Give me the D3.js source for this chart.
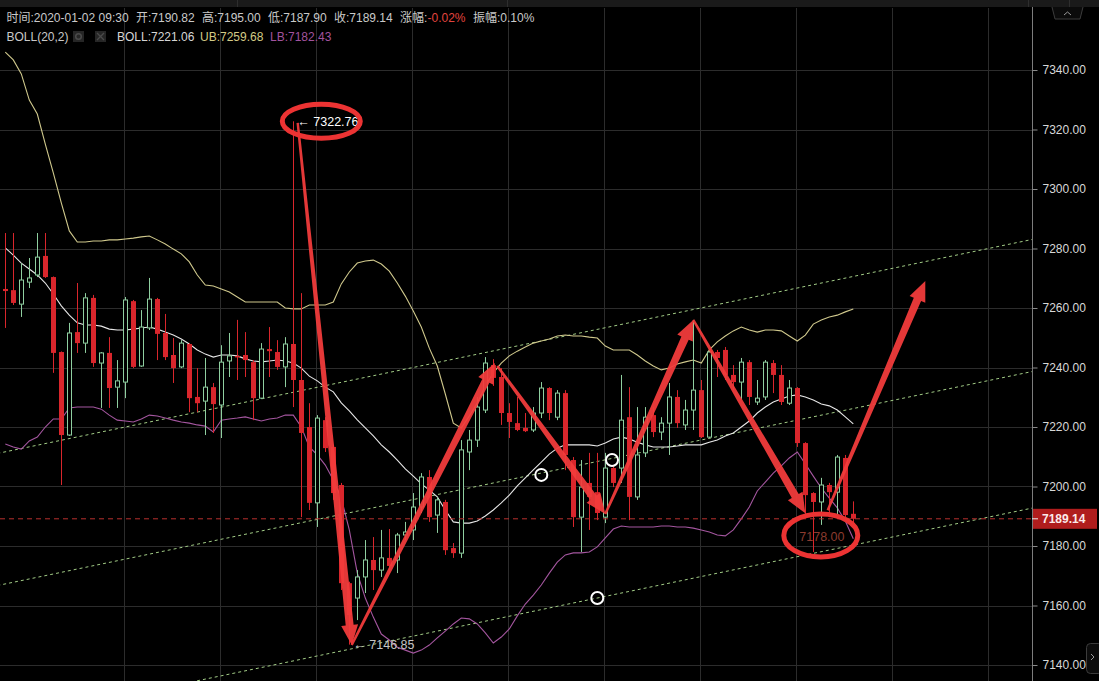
<!DOCTYPE html>
<html><head><meta charset="utf-8">
<script src="https://cdn.jsdelivr.net/npm/d3@7"></script>
<style>html,body{margin:0;padding:0;background:#000;overflow:hidden}</style>
</head><body><svg id="c" width="1099" height="681"></svg>
<script>
// ---------------- data ----------------
const openP = [7266.4,7266.0,7261.3,7268.7,7271.1,7277.5,7270.4,7245.2,7217.3,7251.9,
7248.2,7263.4,7241.5,7244.9,7233.4,7235.1,7262.3,7240.5,7253.3,7263.0,
7251.6,7244.2,7240.2,7247.9,7230.1,7228.7,7233.4,7227.4,7242.2,7243.9,
7244.2,7241.8,7229.7,7246.2,7245.2,7240.2,7247.9,7235.8,7220.0,7194.5,
7222.3,7213.3,7200.5,7167.5,7162.5,7169.6,7175.3,7171.9,7176.0,7175.3,
7183.7,7185.4,7193.1,7203.2,7190.4,7194.8,7179.3,7177.6,7211.6,7215.6,
7225.7,7240.8,7236.8,7224.7,7221.3,7219.7,7219.0,7224.7,7233.1,7223.3,
7231.4,7208.9,7189.7,7201.2,7198.1,7189.7,7206.2,7206.2,7223.3,7196.5,
7211.3,7224.0,7218.3,7221.3,7230.1,7220.7,7225.7,7232.4,7216.6,7245.2,
7245.9,7237.5,7235.1,7241.8,7228.4,7230.1,7241.5,7237.5,7228.0,7233.1,
7214.6,7197.8,7194.8,7200.5,7198.1,7209.6,7190.82];
const highP = [7285.2,7285.2,7275.1,7276.8,7285.2,7285.2,7270.6,7245.4,7255.0,7268.4,
7265.0,7264.4,7245.2,7250.2,7242.5,7263.7,7262.7,7259.3,7270.1,7263.4,
7258.0,7249.9,7249.2,7248.2,7239.8,7243.2,7234.8,7247.5,7251.6,7256.0,
7251.9,7242.5,7248.2,7253.6,7249.2,7250.2,7322.76,7265.0,7228.0,7224.0,
7223.3,7214.0,7201.2,7168.0,7171.9,7182.0,7183.0,7185.4,7185.7,7184.4,
7188.1,7197.8,7204.5,7205.5,7196.5,7195.5,7181.0,7215.6,7219.0,7230.1,
7243.5,7242.8,7239.8,7228.0,7230.1,7224.7,7226.7,7235.1,7233.4,7232.4,
7232.4,7209.9,7208.9,7211.3,7211.3,7211.3,7207.2,7237.5,7233.4,7226.7,
7226.7,7226.7,7223.3,7234.8,7232.4,7229.1,7256.0,7235.8,7245.9,7245.9,
7246.9,7240.8,7243.2,7242.5,7235.8,7242.5,7242.5,7240.8,7235.8,7233.4,
7214.9,7198.1,7202.9,7201.2,7210.6,7210.6,7195.00];
const lowP = [7253.3,7261.0,7257.0,7266.7,7270.4,7270.1,7238.2,7200.5,7217.0,7244.9,
7244.9,7240.2,7226.4,7226.4,7226.4,7229.7,7239.8,7240.2,7252.6,7242.5,
7242.5,7234.8,7239.8,7225.0,7225.0,7217.3,7218.0,7216.3,7236.8,7235.8,
7236.8,7222.3,7229.4,7236.8,7239.2,7233.4,7226.7,7189.7,7192.1,7186.4,
7211.6,7195.5,7165.2,7146.85,7155.1,7164.2,7165.2,7169.6,7170.9,7170.9,
7182.0,7182.0,7191.1,7188.1,7184.4,7177.0,7176.0,7176.0,7205.5,7213.3,
7224.7,7233.8,7220.7,7216.3,7218.6,7218.3,7218.3,7223.0,7222.3,7222.3,
7205.5,7186.4,7178.0,7185.4,7188.7,7187.7,7199.8,7201.2,7188.7,7195.5,
7209.9,7216.6,7215.6,7210.6,7219.7,7219.0,7219.0,7216.3,7216.3,7236.8,
7235.8,7232.4,7229.1,7227.4,7227.4,7229.1,7231.4,7227.4,7227.4,7213.3,
7189.7,7178.0,7187.1,7189.7,7189.7,7189.7,7187.90];
const closeP = [7265.7,7261.7,7269.4,7270.1,7277.1,7270.4,7244.9,7217.3,7251.6,7248.2,
7263.4,7241.5,7244.9,7233.1,7235.5,7262.7,7240.2,7253.6,7263.0,7251.3,
7243.5,7239.8,7248.2,7229.7,7228.0,7233.4,7227.7,7241.8,7243.9,7243.5,
7242.5,7229.7,7246.2,7245.5,7240.2,7247.9,7235.8,7218.0,7194.5,7223.0,
7212.9,7197.8,7167.5,7156.8,7169.6,7175.3,7171.9,7176.0,7173.3,7183.7,
7184.7,7193.1,7203.2,7189.7,7195.5,7178.6,7177.6,7212.3,7215.6,7226.7,
7241.5,7236.5,7224.7,7221.7,7219.0,7218.6,7224.7,7233.1,7224.7,7231.4,
7210.6,7189.7,7199.8,7196.5,7191.1,7206.2,7201.2,7222.3,7196.5,7210.6,
7223.3,7218.3,7221.3,7230.1,7221.3,7225.7,7232.4,7216.6,7245.2,7243.2,
7237.5,7235.1,7241.8,7230.1,7229.7,7241.8,7237.5,7228.4,7233.1,7214.6,
7197.1,7194.8,7200.5,7198.1,7209.9,7190.4,7189.14];
const bollUB = [7346.0,7343.4,7338.7,7329.9,7325.2,7315.1,7305.4,7295.3,7285.9,7282.2,
7282.2,7282.5,7282.5,7282.9,7282.9,7283.2,7283.5,7283.9,7284.2,7282.9,
7281.5,7279.8,7278.2,7275.5,7271.1,7267.7,7267.4,7266.4,7265.4,7263.7,
7262.0,7262.0,7262.0,7262.0,7262.0,7260.0,7259.7,7259.7,7261.0,7261.0,
7261.0,7262.0,7268.1,7272.1,7275.1,7275.8,7276.1,7274.8,7272.4,7268.4,
7264.0,7259.0,7253.6,7246.5,7240.5,7231.1,7221.3,7219.7,7223.7,7228.1,
7233.8,7238.2,7241.5,7243.9,7245.5,7246.9,7248.2,7248.9,7249.6,7250.6,
7250.9,7250.6,7250.6,7250.2,7249.9,7247.2,7245.9,7245.9,7245.9,7244.2,
7242.2,7240.5,7239.2,7239.8,7241.2,7241.9,7242.5,7241.5,7245.9,7248.6,
7250.6,7252.3,7253.6,7252.6,7251.9,7252.6,7252.6,7252.3,7250.6,7248.9,
7250.9,7254.6,7256.0,7257.0,7257.6,7258.7,7259.68];
const bollMid = [7280.2,7277.8,7275.1,7273.1,7271.1,7268.4,7264.7,7260.7,7257.6,7255.0,
7254.3,7254.3,7253.9,7252.9,7252.6,7252.6,7252.9,7253.3,7253.6,7252.9,
7251.9,7250.9,7249.6,7247.9,7245.9,7244.5,7243.5,7244.2,7244.2,7243.9,
7242.9,7242.2,7241.9,7242.2,7242.5,7242.2,7241.5,7239.8,7237.1,7235.5,
7233.4,7231.8,7228.1,7225.4,7222.4,7219.7,7217.0,7214.0,7211.6,7208.9,
7205.9,7203.5,7200.9,7198.8,7196.5,7192.1,7188.1,7187.7,7187.7,7188.4,
7190.1,7192.1,7194.5,7197.1,7200.2,7202.9,7205.6,7208.2,7210.9,7212.9,
7214.0,7214.0,7214.0,7214.0,7213.6,7214.6,7216.0,7216.6,7216.0,7214.9,
7214.0,7213.3,7213.3,7213.3,7213.6,7214.0,7214.0,7214.0,7214.9,7215.6,
7217.0,7218.0,7220.0,7222.0,7224.7,7226.7,7228.4,7229.4,7230.4,7230.8,
7230.1,7229.1,7227.7,7227.1,7225.7,7223.4,7221.06];
const bollLB = [7214.3,7213.3,7212.6,7215.3,7216.6,7220.0,7222.7,7222.7,7226.4,7226.7,
7226.7,7226.7,7226.0,7224.0,7222.3,7222.0,7221.7,7222.7,7224.0,7223.7,
7223.0,7222.3,7221.7,7221.3,7220.7,7220.3,7218.3,7222.3,7222.7,7223.0,
7223.4,7222.7,7222.0,7222.7,7223.0,7224.0,7224.0,7220.0,7213.3,7210.6,
7207.2,7202.2,7196.1,7185.4,7170.9,7162.5,7156.1,7150.4,7148.4,7146.0,
7145.0,7144.0,7145.0,7146.7,7149.1,7151.4,7153.8,7155.8,7155.5,7153.8,
7150.8,7147.4,7149.4,7152.1,7156.5,7160.5,7163.5,7166.9,7170.9,7174.6,
7177.0,7177.7,7177.7,7178.0,7179.7,7182.7,7185.7,7186.7,7186.4,7186.4,
7186.4,7186.4,7186.7,7186.7,7186.4,7186.4,7186.0,7185.4,7184.7,7183.7,
7183.4,7185.4,7189.1,7193.1,7198.5,7201.5,7204.5,7206.9,7209.6,7211.6,
7207.6,7203.5,7199.5,7196.1,7192.8,7188.4,7182.43];
const yTicks = [7140,7160,7180,7200,7220,7240,7260,7280,7300,7320,7340];
const timeGridIdx = [14.8,26.8,38.8,50.8,62.8,74.8,86.8,98.8,110.8,122.8];
const lastPrice = 7189.14;
const peakHigh = 7322.76, troughLow = 7146.85, recentLow = 7178.00;
// trend channel lines: [candle index, price]
const channelTop = [[-1,7211.1],[129,7283.4]];
const channelMid = [[-1,7166.7],[129,7239.0]];
const channelBot = [[-1,7120.8],[129,7193.1]];
// hand-drawn zig-zag arrows: [candle index, price]
const arrowLegs = [
  [[36.55,7322.2],[43.3,7146.7]],
  [[43.3,7146.7],[61.2,7241.5]],
  [[61.5,7240.5],[75.0,7190.8]],
  [[75.0,7190.8],[86.0,7256.0]],
  [[86.0,7256.0],[100.0,7191.0]],
  [[102.8,7192.0],[115.0,7269.1]]
];
const markerCircles = [[67,7203.9],[75.84,7208.9],[74,7162.5]];
const headerLine1 = [["时间:2020-01-02 09:30","#c9c9c9"],["开:7190.82","#c9c9c9"],["高:7195.00","#c9c9c9"],["低:7187.90","#c9c9c9"],["收:7189.14","#c9c9c9"],["涨幅:","#c9c9c9"],["-0.02%","#e0443e"],["振幅:0.10%","#c9c9c9"]];
const headerLine2 = [["BOLL(20,2)","#c9c9c9"],["BOLL:7221.06","#d6d6d6"],["UB:7259.68","#d3cb86"],["LB:7182.43","#a2539e"]];

// ---------------- drawing ----------------
const W = 1099, H = 681, axisX = 1032;
const svg = d3.select('#c');
const FONT = '"Liberation Sans", Arial, "Noto Sans CJK SC", sans-serif';
const x = d3.scaleLinear().domain([0, 106]).range([5.3, 853.3]);
const y = d3.scaleLinear().domain([7140, 7340]).range([665, 70]);

svg.append('rect').attr('width', W).attr('height', H).attr('fill', '#000');
const defs = svg.append('defs');
defs.append('clipPath').attr('id', 'clip').append('rect')
  .attr('x', 0).attr('y', 8).attr('width', axisX).attr('height', H - 8);

// top strip
svg.append('rect').attr('x', 0).attr('y', 0).attr('width', W).attr('height', 7).attr('fill', '#1a1a1a');
[237, 507, 1028, 1069].forEach(v => svg.append('line').attr('x1', v + .5).attr('x2', v + .5).attr('y1', 0).attr('y2', 7).attr('stroke', '#2e2e2e'));

const plot = svg.append('g').attr('clip-path', 'url(#clip)');

// grid
plot.append('g').selectAll('line').data(yTicks).join('line')
  .attr('x1', 0).attr('x2', axisX)
  .attr('y1', d => Math.round(y(d)) + .5).attr('y2', d => Math.round(y(d)) + .5)
  .attr('stroke', '#2c2c2c').attr('stroke-width', 1);
plot.append('g').selectAll('line').data(timeGridIdx).join('line')
  .attr('x1', d => Math.round(x(d)) + .5).attr('x2', d => Math.round(x(d)) + .5)
  .attr('y1', 8).attr('y2', H)
  .attr('stroke', '#2c2c2c').attr('stroke-width', 1);

// channel lines
const segLine = d3.line().x(d => x(d[0])).y(d => y(d[1]));
[channelTop, channelMid, channelBot].forEach(c => {
  plot.append('path').attr('d', segLine(c)).attr('fill', 'none')
    .attr('stroke', '#a2cc86').attr('stroke-width', 1).attr('stroke-dasharray', '3,3');
});

// bollinger bands
const bandLine = d3.line().x((d, i) => x(i)).y(d => y(d));
plot.append('path').attr('d', bandLine(bollUB)).attr('fill', 'none').attr('stroke', '#cfc88c').attr('stroke-width', 1.1);
plot.append('path').attr('d', bandLine(bollMid)).attr('fill', 'none').attr('stroke', '#e6e6e6').attr('stroke-width', 1.1);
plot.append('path').attr('d', bandLine(bollLB)).attr('fill', 'none').attr('stroke', '#a4569f').attr('stroke-width', 1.1);

// candles
const RED = '#d9262c', GREEN = '#8fcfa0';
const cg = plot.append('g');
openP.forEach((o, i) => {
  const c = closeP[i], hi = highP[i], lo = lowP[i];
  const cx = Math.round(x(i));
  const up = c > o;
  const col = up ? GREEN : RED;
  const yTop = y(Math.max(o, c)), yBot = y(Math.min(o, c));
  if (up) {
    cg.append('line').attr('x1', cx + .5).attr('x2', cx + .5).attr('y1', y(hi)).attr('y2', yTop).attr('stroke', col);
    cg.append('line').attr('x1', cx + .5).attr('x2', cx + .5).attr('y1', yBot).attr('y2', y(lo)).attr('stroke', col);
    cg.append('rect').attr('x', cx - 1.5).attr('y', yTop).attr('width', 4).attr('height', Math.max(1, yBot - yTop))
      .attr('fill', '#000').attr('stroke', col).attr('stroke-width', 1);
  } else {
    cg.append('line').attr('x1', cx + .5).attr('x2', cx + .5).attr('y1', y(hi)).attr('y2', y(lo)).attr('stroke', col);
    cg.append('rect').attr('x', cx - 2).attr('y', yTop).attr('width', 5).attr('height', Math.max(1.5, yBot - yTop))
      .attr('fill', col);
  }
});

// last price dashed line
plot.append('line').attr('x1', 0).attr('x2', axisX)
  .attr('y1', y(lastPrice)).attr('y2', y(lastPrice))
  .attr('stroke', '#b8302e').attr('stroke-width', 1).attr('stroke-dasharray', '5,4');

// annotation: white marker circles
plot.append('g').selectAll('circle').data(markerCircles).join('circle')
  .attr('cx', d => x(d[0])).attr('cy', d => y(d[1])).attr('r', 6)
  .attr('fill', 'none').attr('stroke', '#ffffff').attr('stroke-width', 2);

// annotation: tapered arrows
function arrowPoly(p0, p1) {
  const dx = p1[0] - p0[0], dy = p1[1] - p0[1];
  const L = Math.hypot(dx, dy), ux = dx / L, uy = dy / L, nx = -uy, ny = ux;
  const headLen = 20, hw = 8.5, w0 = 1.2, w1 = 4.0;
  const bx = p1[0] - ux * headLen, by = p1[1] - uy * headLen;
  const pts = [
    [p0[0] + nx * w0, p0[1] + ny * w0],
    [bx + nx * w1, by + ny * w1],
    [bx + nx * hw, by + ny * hw],
    [p1[0], p1[1]],
    [bx - nx * hw, by - ny * hw],
    [bx - nx * w1, by - ny * w1],
    [p0[0] - nx * w0, p0[1] - ny * w0]
  ];
  return 'M' + pts.map(p => p[0].toFixed(1) + ',' + p[1].toFixed(1)).join('L') + 'Z';
}
const ag = svg.append('g');
arrowLegs.forEach(leg => {
  const p0 = [x(leg[0][0]), y(leg[0][1])], p1 = [x(leg[1][0]), y(leg[1][1])];
  ag.append('path').attr('d', arrowPoly(p0, p1)).attr('fill', '#f23b3b').attr('fill-opacity', 0.94);
});

// price labels
svg.append('text').attr('x', x(36) + 4).attr('y', y(peakHigh) + 4.5)
  .attr('fill', '#ffffff').style('font', '12.5px ' + FONT).text('← ' + peakHigh.toFixed(2));
svg.append('text').attr('x', x(43) + 4).attr('y', y(troughLow) + 4)
  .attr('fill', '#c4c4c4').style('font', '12.5px ' + FONT).text('← ' + troughLow.toFixed(2));
svg.append('text').attr('x', x(101) - 14).attr('y', y(recentLow) - 11)
  .attr('fill', '#8c3b2e').style('font', '12.5px ' + FONT).text(recentLow.toFixed(2));

// red ellipses
svg.append('ellipse').attr('cx', x(36) + 28).attr('cy', y(peakHigh)).attr('rx', 39).attr('ry', 17)
  .attr('fill', 'none').attr('stroke', '#ec3333').attr('stroke-width', 5);
svg.append('ellipse').attr('cx', x(101) + 7.5).attr('cy', y(recentLow) - 16.5).attr('rx', 37).attr('ry', 21.5)
  .attr('fill', 'none').attr('stroke', '#ec3333').attr('stroke-width', 5);

// y axis
svg.append('line').attr('x1', axisX + .5).attr('x2', axisX + .5).attr('y1', 7).attr('y2', H)
  .attr('stroke', '#7c7c7c').attr('stroke-width', 1);
const ax = svg.append('g').attr('transform', `translate(${axisX + .5},0)`)
  .call(d3.axisRight(y).tickValues(yTicks).tickFormat(d3.format('.2f')).tickSize(5).tickPadding(5));
ax.select('.domain').remove();
ax.selectAll('line').attr('stroke', '#8a8a8a');
ax.selectAll('text').attr('fill', '#d8d8d8').style('font', '12px ' + FONT);

// last price tag
svg.append('rect').attr('x', axisX + 1).attr('y', y(lastPrice) - 10).attr('width', 64).attr('height', 20).attr('fill', '#b01d1d');
svg.append('line').attr('x1', axisX).attr('x2', axisX + 6).attr('y1', y(lastPrice)).attr('y2', y(lastPrice)).attr('stroke', '#eee');
svg.append('text').attr('x', axisX + 10).attr('y', y(lastPrice) + 4.5).attr('fill', '#fbeaea')
  .style('font', 'bold 12px ' + FONT).text(lastPrice.toFixed(2));

// header
const h1x = [6.5, 136, 202, 268, 334, 400, 427.5, 473];
headerLine1.forEach((t, i) => {
  svg.append('text').attr('x', h1x[i]).attr('y', 21.5).attr('fill', t[1])
    .style('font', '12px ' + FONT).text(t[0]);
});
const h2x = [6.5, 117, 200, 270];
headerLine2.forEach((t, i) => {
  svg.append('text').attr('x', h2x[i]).attr('y', 40.5).attr('fill', t[1])
    .style('font', '12px ' + FONT).text(t[0]);
});
// small icon buttons
[[73, 'gear'], [95, 'x']].forEach(([bx, k]) => {
  svg.append('rect').attr('x', bx).attr('y', 31).attr('width', 11).attr('height', 11).attr('fill', '#262626');
  if (k === 'gear') {
    svg.append('circle').attr('cx', bx + 5.5).attr('cy', 36.5).attr('r', 2.8).attr('fill', 'none').attr('stroke', '#4a4a4a').attr('stroke-width', 1.5);
  } else {
    svg.append('path').attr('d', `M${bx + 2},33 L${bx + 9},40 M${bx + 9},33 L${bx + 2},40`).attr('stroke', '#4a4a4a').attr('stroke-width', 1.4);
  }
});

// top-right collapse tab
svg.append('path').attr('d', 'M1052,7 L1055,19 L1080,19 L1083,7').attr('fill', '#0b0b0b').attr('stroke', '#3c3c3c');
svg.append('path').attr('d', 'M1064,15 L1067.5,12 L1071,15').attr('fill', 'none').attr('stroke', '#9a9a9a').attr('stroke-width', 1);
// bottom-right expand tab
svg.append('rect').attr('x', 1086.5).attr('y', 643.5).attr('width', 16).attr('height', 30).attr('rx', 4)
  .attr('fill', '#0c0c0c').attr('stroke', '#3c3c3c');
svg.append('path').attr('d', 'M1091,654 L1094,657 L1091,660').attr('fill', 'none').attr('stroke', '#9a9a9a').attr('stroke-width', 1);
</script></body></html>
